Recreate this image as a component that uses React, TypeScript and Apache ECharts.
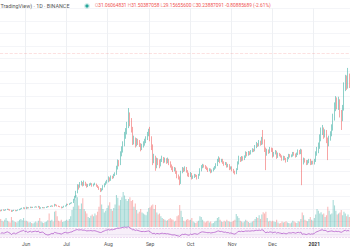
import React, { useEffect, useRef } from "react";
import * as echarts from "echarts";

// ---- data (daily, from 2020-05-13) ----
const startYear = 2020;
const startMonth = 4; // May (0-based)
const startDay = 13;
const firstOpen = 3.75;

const closes = [
  3.70, 3.85, 3.78, 3.82, 3.90, 3.95, 3.88, 3.80, 3.62, 3.75, 3.80, 3.70, 3.78, 3.85, 3.95, 4.05, 4.10, 4.20, 4.05,
  4.25, 4.15, 4.20, 4.30, 4.22, 4.28, 4.30, 4.35, 4.28, 4.40, 4.10, 4.20, 4.25, 4.18, 4.22, 4.30, 4.40, 4.38, 4.45, 4.50, 4.42, 4.70, 4.62, 4.48, 4.40, 4.35, 4.20, 4.30, 4.45, 4.50,
  4.75, 4.70, 4.85, 4.95, 5.00, 5.50, 5.90, 6.60, 7.60, 7.50, 8.00, 8.10, 7.80, 8.20, 7.90, 7.60, 7.80, 7.90, 8.00, 7.70, 7.90, 7.95, 7.70, 7.50, 7.20, 6.90, 7.10, 7.60, 7.90, 8.20, 8.40,
  8.90, 8.60, 9.10, 9.00, 9.40, 9.60, 10.60, 11.50, 11.20, 12.80, 13.40, 14.30, 15.80, 16.20, 17.20, 18.90, 18.00, 16.80, 14.90, 15.10, 14.20, 14.90, 14.60, 14.20, 13.60, 14.00, 14.40, 14.80, 15.20, 15.90, 16.20,
  15.20, 13.90, 11.60, 12.20, 10.70, 11.80, 11.40, 11.00, 11.70, 12.10, 11.60, 11.90, 11.50, 11.80, 11.30, 10.90, 10.50, 10.20, 10.40, 9.90, 9.20, 9.00, 8.10, 9.90, 10.40, 10.20, 10.50, 10.00, 9.50, 9.30,
  9.60, 8.90, 9.10, 9.40, 9.30, 8.90, 9.40, 10.20, 10.70, 10.90, 10.80, 10.60, 10.40, 10.10, 10.30, 9.90, 10.10, 10.40, 10.60, 11.00, 11.70, 12.00, 11.60, 11.80, 11.40, 11.10, 11.30, 10.80, 11.00, 10.40, 10.60,
  10.20, 9.90, 9.70, 10.30, 11.30, 12.10, 11.70, 12.20, 11.90, 12.30, 12.90, 12.60, 13.00, 12.80, 13.20, 13.40, 13.30, 13.90, 14.30, 14.10, 14.60, 14.30, 15.00, 14.80, 13.50, 12.70, 13.30, 13.00, 13.60, 13.40,
  12.50, 12.90, 13.10, 12.30, 12.80, 12.60, 12.40, 11.90, 12.30, 12.00, 11.60, 12.10, 12.60, 12.40, 12.50, 12.90, 12.70, 12.40, 12.80, 13.20, 12.90, 13.30, 11.40, 11.90, 11.60, 11.20, 11.50, 11.80, 11.20, 11.50, 11.30,
  11.70, 12.80, 13.40, 13.90, 15.20, 16.30, 16.60, 15.80, 16.20, 15.00, 14.30, 15.20, 15.90, 16.80, 18.50, 20.20, 21.30, 20.40, 21.00, 19.20, 18.40, 20.00, 23.40, 24.60, 23.60, 24.80, 23.90,
];

const highs = [
  3.86, 3.92, 3.95, 3.90, 3.98, 4.05, 4.02, 3.96, 3.85, 3.82, 3.88, 3.86, 3.84, 3.92, 4.02, 4.12, 4.20, 4.28, 4.26,
  4.36, 4.32, 4.28, 4.38, 4.36, 4.35, 4.36, 4.44, 4.40, 4.50, 4.45, 4.28, 4.32, 4.30, 4.28, 4.38, 4.48, 4.46, 4.52, 4.58, 4.56, 4.82, 4.78, 4.68, 4.54, 4.46, 4.40, 4.36, 4.52, 4.58,
  4.85, 4.82, 4.92, 5.02, 5.08, 5.62, 6.10, 6.90, 7.95, 7.90, 8.30, 8.50, 8.30, 8.55, 8.35, 8.05, 8.00, 8.10, 8.20, 8.12, 8.05, 8.20, 8.05, 7.82, 7.60, 7.35, 7.30, 7.80, 8.10, 8.40, 8.65,
  9.20, 9.05, 9.35, 9.30, 9.60, 9.85, 10.90, 11.90, 11.80, 13.20, 14.00, 14.80, 16.30, 16.90, 17.90, 20.10, 19.40, 18.50, 17.10, 15.70, 15.40, 15.30, 15.20, 15.00, 14.50, 14.40, 14.80, 15.20, 15.60, 16.30, 16.80,
  17.10, 15.60, 14.30, 12.80, 12.50, 12.20, 12.10, 11.90, 12.00, 12.50, 12.30, 12.20, 12.10, 12.20, 12.00, 11.60, 11.10, 10.80, 10.70, 10.60, 10.10, 9.50, 9.20, 10.10, 10.70, 10.60, 10.80, 10.70, 10.20, 9.80,
  9.90, 9.75, 9.35, 9.60, 9.55, 9.45, 9.60, 10.50, 11.00, 11.20, 11.10, 11.00, 10.80, 10.60, 10.50, 10.45, 10.30, 10.60, 10.85, 11.30, 12.00, 12.40, 12.20, 12.00, 12.00, 11.60, 11.50, 11.45, 11.20, 11.15, 10.80,
  10.80, 10.40, 10.10, 10.50, 11.60, 12.50, 12.30, 12.45, 12.40, 12.55, 13.20, 13.10, 13.25, 13.20, 13.40, 13.70, 13.60, 14.20, 14.70, 14.50, 15.00, 14.90, 15.50, 16.60, 15.10, 13.80, 13.60, 13.50, 13.90, 13.80,
  13.70, 13.10, 13.40, 13.30, 13.00, 12.95, 12.80, 12.55, 12.50, 12.45, 12.15, 12.30, 12.80, 12.75, 12.70, 13.10, 13.10, 12.85, 13.00, 13.50, 13.40, 13.60, 13.50, 12.20, 12.10, 11.80, 11.80, 12.00, 12.00, 11.70, 11.70,
  12.00, 13.20, 13.90, 14.60, 15.90, 17.00, 17.40, 17.00, 16.70, 16.60, 15.40, 15.70, 16.40, 17.50, 19.20, 21.00, 22.00, 21.80, 21.90, 21.50, 19.80, 20.60, 24.20, 25.40, 25.30, 26.50, 25.60,
];

const lows = [
  3.62, 3.66, 3.72, 3.70, 3.76, 3.84, 3.80, 3.72, 3.52, 3.58, 3.68, 3.64, 3.65, 3.72, 3.80, 3.88, 3.98, 4.04, 3.98,
  3.98, 4.06, 4.10, 4.14, 4.15, 4.16, 4.22, 4.24, 4.20, 4.22, 3.98, 4.04, 4.12, 4.10, 4.12, 4.16, 4.24, 4.30, 4.32, 4.38, 4.34, 4.38, 4.52, 4.40, 4.32, 4.28, 4.10, 4.14, 4.24, 4.38,
  4.44, 4.62, 4.65, 4.78, 4.88, 4.95, 5.40, 5.80, 6.50, 7.10, 7.40, 7.75, 7.60, 7.70, 7.70, 7.40, 7.50, 7.65, 7.80, 7.55, 7.60, 7.80, 7.55, 7.35, 7.05, 6.70, 6.80, 7.00, 7.45, 7.80, 8.05,
  8.25, 8.40, 8.50, 8.80, 8.90, 9.25, 9.45, 10.30, 10.80, 11.00, 12.40, 13.00, 14.00, 15.20, 15.90, 16.90, 17.20, 16.20, 14.20, 14.30, 13.80, 14.00, 14.20, 13.90, 13.20, 13.40, 13.80, 14.10, 14.50, 15.00, 15.60,
  14.80, 13.40, 11.00, 11.30, 10.10, 10.50, 11.00, 10.50, 10.80, 11.50, 11.30, 11.40, 11.20, 11.30, 11.00, 10.60, 10.20, 9.90, 10.00, 9.60, 8.90, 8.70, 7.80, 8.00, 9.70, 9.90, 10.00, 9.80, 9.20, 9.10,
  9.10, 8.70, 8.80, 8.95, 9.10, 8.70, 8.80, 9.30, 10.00, 10.50, 10.60, 10.40, 10.20, 9.90, 10.00, 9.70, 9.80, 10.00, 10.25, 10.45, 10.85, 11.50, 11.30, 11.45, 11.20, 10.90, 11.00, 10.60, 10.65, 10.20, 10.30,
  10.00, 9.70, 9.50, 9.55, 10.20, 11.10, 11.50, 11.60, 11.70, 11.80, 12.15, 12.40, 12.50, 12.60, 12.70, 13.05, 13.10, 13.20, 13.70, 13.90, 14.00, 14.10, 14.20, 14.30, 13.10, 10.20, 12.50, 12.80, 12.90, 13.10,
  12.20, 12.35, 12.70, 12.00, 12.15, 12.40, 12.20, 11.70, 11.75, 11.80, 11.40, 11.50, 11.95, 12.20, 12.25, 12.35, 12.50, 12.20, 12.30, 12.60, 12.70, 12.75, 7.80, 11.10, 11.40, 11.00, 11.05, 11.30, 11.00, 11.05, 11.10,
  11.10, 11.50, 12.50, 12.90, 13.60, 14.80, 15.80, 15.20, 15.40, 14.50, 11.80, 14.00, 14.90, 15.60, 16.50, 18.10, 19.60, 19.90, 19.80, 18.60, 16.60, 18.00, 19.70, 22.80, 23.00, 23.20, 23.30,
];

const volumes = [
  18, 14, 12, 16, 20, 14, 12, 10, 22, 15, 12, 11, 10, 13, 16, 18, 15, 20, 14,
  14, 12, 10, 11, 9, 8, 10, 12, 10, 14, 20, 12, 10, 9, 11, 12, 15, 30, 14, 16, 12, 34, 36, 24, 14, 12, 16, 11, 12, 14,
  16, 14, 18, 24, 38, 45, 60, 71, 66, 48, 40, 52, 64, 40, 35, 30, 22, 20, 25, 28, 24, 30, 26, 34, 45, 71, 50, 40, 32, 36, 42,
  48, 55, 40, 36, 42, 50, 71, 65, 48, 60, 66, 78, 70, 62, 58, 62, 66, 58, 60, 45, 52, 38, 30, 34, 40, 32, 30, 28, 26, 34, 42,
  44, 48, 50, 40, 49, 32, 28, 30, 24, 20, 18, 16, 14, 15, 18, 20, 17, 16, 12, 14, 24, 26, 49, 36, 22, 14, 12, 16, 18, 15,
  16, 20, 12, 10, 9, 12, 14, 24, 22, 16, 12, 10, 12, 14, 10, 12, 8, 9, 12, 14, 20, 22, 16, 12, 11, 14, 12, 16, 13, 12, 11,
  12, 14, 16, 29, 24, 20, 14, 12, 10, 12, 16, 14, 11, 9, 10, 12, 14, 18, 22, 20, 26, 18, 28, 33, 30, 34, 20, 12, 14, 12,
  14, 12, 11, 16, 10, 8, 9, 12, 10, 11, 13, 10, 9, 8, 10, 14, 12, 10, 9, 13, 12, 18, 32, 26, 16, 14, 13, 18, 22, 16, 14,
  20, 28, 40, 36, 30, 33, 28, 30, 22, 26, 45, 36, 28, 30, 60, 48, 36, 28, 30, 32, 38, 26, 34, 30, 24, 28, 22,
];

const rsi = [
  47, 50, 48, 49, 52, 54, 51, 48, 42, 47, 49, 45, 48, 51, 54, 57, 58, 61, 55,
  57, 52, 54, 57, 53, 55, 56, 57, 54, 58, 50, 52, 53, 50, 44, 42, 40, 41, 44, 47, 45, 52, 50, 48, 47, 46, 44, 47, 50, 52,
  50, 49, 51, 53, 54, 58, 60, 63, 64, 62, 63, 63, 61, 62, 60, 58, 59, 59, 60, 58, 59, 59, 57, 55, 53, 51, 52, 56, 58, 61, 62,
  64, 62, 64, 63, 65, 66, 69, 71, 70, 72, 73, 74, 75, 74, 75, 76, 72, 68, 63, 64, 60, 62, 60, 58, 56, 55, 56, 55, 56, 57, 58,
  54, 50, 46, 48, 44, 47, 46, 45, 47, 48, 46, 47, 45, 46, 44, 43, 41, 40, 41, 39, 37, 36, 34, 40, 43, 42, 44, 42, 40, 39,
  44, 42, 44, 46, 45, 43, 46, 50, 53, 54, 53, 52, 51, 50, 51, 49, 50, 51, 52, 54, 57, 58, 55, 56, 54, 52, 53, 50, 51, 48, 49,
  47, 45, 44, 48, 53, 57, 55, 57, 55, 56, 58, 57, 58, 57, 58, 59, 58, 60, 61, 60, 62, 60, 63, 62, 54, 50, 53, 51, 54, 53,
  50, 52, 53, 48, 51, 49, 48, 46, 48, 47, 45, 47, 50, 49, 49, 51, 50, 48, 50, 52, 50, 53, 43, 45, 44, 42, 44, 46, 43, 45, 44,
  47, 52, 55, 57, 60, 62, 63, 60, 61, 58, 54, 56, 57, 58, 56, 55, 57, 55, 56, 54, 52, 55, 59, 61, 58, 60, 58,
];

const lastPriceLine = 28.9;
const rsiBand = [30, 70];
const monthNames = ["Jan", "Feb", "Mar", "Apr", "May", "Jun", "Jul", "Aug", "Sep", "Oct", "Nov", "Dec"];
const headerTitle = "TradingView) · 1D · BINANCE";
const ohlcLabels = ["O", "H", "L", "C"];
const ohlcValues = ["31.06064831", "31.50387058", "29.15655600", "30.23887091"];
const changeText = "-0.80885689 (-2.61%)";

// ---- styles ----
const UP = "#26a69a";
const DOWN = "#ef5350";
const UP_VOL = "rgba(38,166,154,0.4)";
const DOWN_VOL = "rgba(239,83,80,0.4)";
const FONT = "Roboto, 'Liberation Sans', sans-serif";

function buildOption() {
  const dates: string[] = [];
  for (let i = 0; i < closes.length; i++) {
    const d = new Date(Date.UTC(startYear, startMonth, startDay + i));
    dates.push(d.toISOString().slice(0, 10));
  }
  const monthStart = dates.map((d) => d.endsWith("-01"));
  const opens = closes.map((c, i) => (i === 0 ? firstOpen : closes[i - 1]));
  const candles = closes.map((c, i) => [opens[i], c, lows[i], highs[i]]);
  const vols = volumes.map((v, i) => ({
    value: v,
    itemStyle: { color: closes[i] >= opens[i] ? UP_VOL : DOWN_VOL },
  }));

  const ohlcRich =
    ohlcLabels.map((l, i) => `{l|${l}}{v|${ohlcValues[i]}}`).join(" ") + ` {v|${changeText}}`;

  return {
    animation: false,
    backgroundColor: "#ffffff",
    textStyle: { fontFamily: FONT },
    graphic: [
      {
        type: "text",
        left: 0.5,
        top: 3,
        style: { text: headerTitle, fontSize: 5.4, fill: "#555", fontFamily: FONT },
        z: 100,
      },
      { type: "circle", shape: { cx: 87, cy: 6, r: 3 }, style: { fill: "rgba(38,166,154,0.2)" }, z: 100 },
      { type: "circle", shape: { cx: 87, cy: 6, r: 1.6 }, style: { fill: UP }, z: 101 },
      {
        type: "text",
        left: 95,
        top: 3.4,
        style: {
          text: ohlcRich,
          fontFamily: FONT,
          fontSize: 4.8,
          rich: {
            l: { fill: "#f19a98", fontSize: 4.8, fontFamily: FONT },
            v: { fill: DOWN, fontSize: 4.8, fontFamily: FONT },
          },
        },
        z: 100,
      },
    ],
    grid: [
      { left: 0, right: 0, top: 8.36, bottom: 15.92 },
      { left: 0, right: 0, top: 182, height: 45 },
      { left: 0, right: 0, top: 221.5, height: 22.5 },
    ],
    xAxis: [
      {
        type: "category",
        gridIndex: 0,
        data: dates,
        boundaryGap: true,
        axisLine: { show: false },
        axisTick: { show: false },
        axisLabel: { show: false },
        splitLine: {
          show: true,
          interval: (i: number) => monthStart[i],
          lineStyle: { color: "#eef0f3", width: 1 },
        },
      },
      {
        type: "category",
        gridIndex: 1,
        data: dates,
        boundaryGap: true,
        axisLine: { show: false },
        axisTick: { show: false },
        splitLine: { show: false },
        axisLabel: {
          show: true,
          interval: (i: number) => monthStart[i],
          margin: 14,
          fontSize: 5,
          color: "#555",
          fontFamily: FONT,
          formatter: (value: string) => {
            const m = Number(value.slice(5, 7));
            return m === 1 ? `{y|${value.slice(0, 4)}}` : monthNames[m - 1];
          },
          rich: { y: { fontSize: 5, fontWeight: "bold", color: "#333", fontFamily: FONT } },
        },
      },
      {
        type: "category",
        gridIndex: 2,
        data: dates,
        boundaryGap: true,
        show: false,
      },
    ],
    yAxis: [
      {
        type: "value",
        gridIndex: 0,
        min: 0,
        max: 36,
        interval: 2,
        axisLine: { show: false },
        axisTick: { show: false },
        axisLabel: { show: false },
        splitLine: { show: true, lineStyle: { color: "#f4f5f8", width: 1 } },
      },
      { type: "value", gridIndex: 1, min: 0, max: 100, show: false, splitLine: { show: false } },
      { type: "value", gridIndex: 2, min: 0, max: 100, show: false, splitLine: { show: false } },
    ],
    series: [
      {
        type: "bar",
        xAxisIndex: 1,
        yAxisIndex: 1,
        data: vols,
        barCategoryGap: "20%",
        z: 1,
      },
      {
        type: "candlestick",
        xAxisIndex: 0,
        yAxisIndex: 0,
        data: candles,
        barWidth: 0.6,
        z: 3,
        itemStyle: {
          color: UP,
          color0: DOWN,
          borderColor: "rgba(38,166,154,0.75)",
          borderColor0: "rgba(239,83,80,0.75)",
          borderWidth: 0.7,
        },
        markLine: {
          silent: true,
          symbol: ["none", "none"],
          label: { show: false },
          lineStyle: { color: "rgba(239,83,80,0.22)", type: "dashed", width: 0.8 },
          data: [{ yAxis: lastPriceLine }],
        },
      },
      {
        type: "line",
        xAxisIndex: 2,
        yAxisIndex: 2,
        data: rsi,
        showSymbol: false,
        symbol: "none",
        lineStyle: { color: "#b55fcc", width: 0.8 },
        z: 4,
        markArea: {
          silent: true,
          itemStyle: { color: "rgba(156,39,176,0.08)" },
          data: [[{ yAxis: rsiBand[0] }, { yAxis: rsiBand[1] }]],
        },
        markLine: {
          silent: true,
          symbol: ["none", "none"],
          label: { show: false },
          lineStyle: { color: "rgba(156,39,176,0.3)", type: "dashed", width: 0.5 },
          data: [{ yAxis: rsiBand[0] }, { yAxis: rsiBand[1] }],
        },
      },
    ],
  };
}

export default function App() {
  const ref = useRef<HTMLDivElement>(null);
  useEffect(() => {
    document.body.style.margin = "0";
    const chart = echarts.init(ref.current as HTMLDivElement, null, { renderer: "svg" });
    chart.setOption(buildOption() as any);
    return () => chart.dispose();
  }, []);
  return <div ref={ref} style={{ width: 350, height: 250 }} />;
}
